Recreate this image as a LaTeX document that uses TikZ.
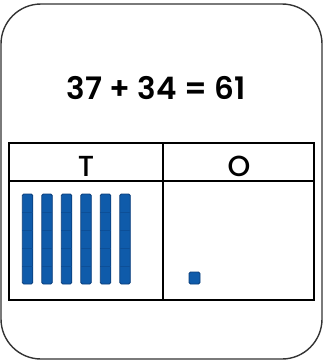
\documentclass[tikz,border=0pt]{standalone}
\usepackage{fontspec}
\setmainfont{Poppins}
\newfontfamily\eqfont{Poppins SemiBold}
\newfontfamily\hdfont{Poppins Medium}
\usetikzlibrary{positioning}
\definecolor{rodblue}{HTML}{0F5BAA}
\definecolor{roddark}{HTML}{0A3D7A}
\definecolor{framegray}{HTML}{333333}

\begin{document}
\begin{tikzpicture}[
  x=1pt, y=-1pt,
  frame_box/.style={draw=framegray, line width=1.4pt, rounded corners=40pt},
  grid_line/.style={draw=black, line width=2pt},
  head_lbl/.style={font=\hdfont\fontsize{29}{29}\selectfont, inner sep=0pt, anchor=base},
  eq_lbl/.style={font=\eqfont\fontsize{31}{31}\selectfont, inner sep=0pt, anchor=base},
  rod_bar/.style={fill=rodblue, draw=roddark, line width=0.8pt, rounded corners=1.5pt},
  rod_seg/.style={draw=roddark!40!rodblue, line width=0.3pt},
]
  \useasboundingbox (0,0) rectangle (323,361);
  \draw[frame_box] (1,4) rectangle (322,359);

  \node[eq_lbl] (sum_eq) at (156,99) {37 + 34 = 61};

  % place value table
  \draw[grid_line] (9,143) rectangle (314,300);
  \draw[grid_line] (9,181) -- (314,181);
  \draw[grid_line] (163,143) -- (163,300);
  \node[head_lbl] (tens_hd) at (86,176)  {T};
  \node[head_lbl] (ones_hd) at (239,176) {O};

  % six tens rods, one unit
  \foreach \i in {0,...,5} {
    \draw[rod_bar] ({22.3+19.5*\i},194) rectangle ++(10.5,90);
    \foreach \j in {1,...,4}
      \draw[rod_seg] ({22.3+19.5*\i},{194+18*\j}) -- ++(10.5,0);
  }
  \draw[rod_bar] (189,272) rectangle (200,284);
\end{tikzpicture}
\end{document}
